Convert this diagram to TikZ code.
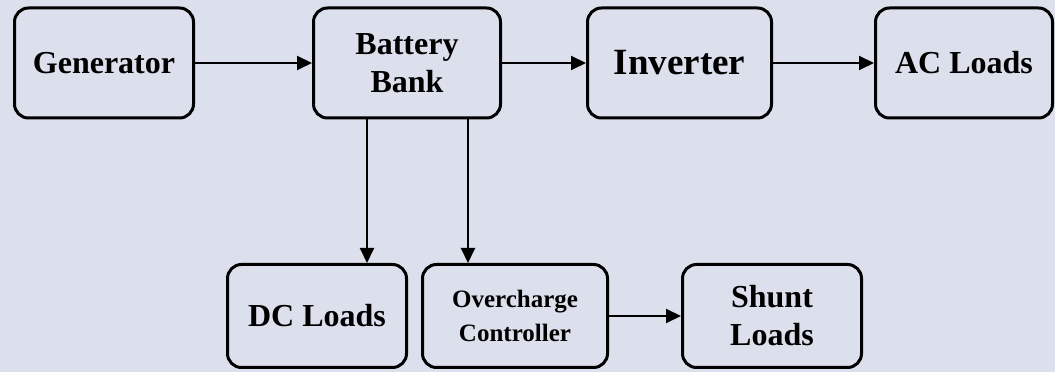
\documentclass[tikz,border=0pt]{standalone}
\usepackage{fontspec}
\setmainfont{Liberation Serif}
\usepackage{tikz}
\usetikzlibrary{positioning,arrows.meta}
\definecolor{bgPanel}{RGB}{220,224,236}

\begin{document}
\begin{tikzpicture}[
    x=1pt, y=1pt,
    box/.style={draw, line width=3pt, rounded corners=14pt, minimum height=110pt, align=center,
        font=\bfseries\fontsize{32}{38}\selectfont, inner sep=2pt},
    lowbox/.style={box, minimum height=103pt},
    arr/.style={-{Triangle[length=15pt, width=14pt]}, line width=2pt}
]
\useasboundingbox[fill=bgPanel] (0,0) rectangle (1055,372);

\node[box, minimum width=179pt] (gen) at (104,309) {Generator};
\node[box, minimum width=187pt, right=117pt of gen] (bat) {Battery\\Bank};
\node[box, minimum width=184pt, right=84pt of bat, font=\bfseries\fontsize{37}{42}\selectfont] (inv) {Inverter};
\node[box, minimum width=177pt, right=101pt of inv] (ac) {AC Loads};

\node[lowbox, minimum width=179pt] (dc) at (317,56) {DC Loads};
\node[lowbox, minimum width=185pt, right=13pt of dc, font=\bfseries\fontsize{25}{34}\selectfont] (oc) {Overcharge\\Controller};
\node[lowbox, minimum width=179pt, right=72pt of oc] (shunt) {Shunt\\Loads};

\draw[arr] (gen) -- (bat);
\draw[arr] (bat) -- (inv);
\draw[arr] (inv) -- (ac);
\draw[arr] ([xshift=-40pt]bat.south) -- ([xshift=-40pt]bat.south |- dc.north);
\draw[arr] ([xshift=61pt]bat.south) -- ([xshift=61pt]bat.south |- oc.north);
\draw[arr] (oc) -- (shunt);
\end{tikzpicture}
\end{document}
